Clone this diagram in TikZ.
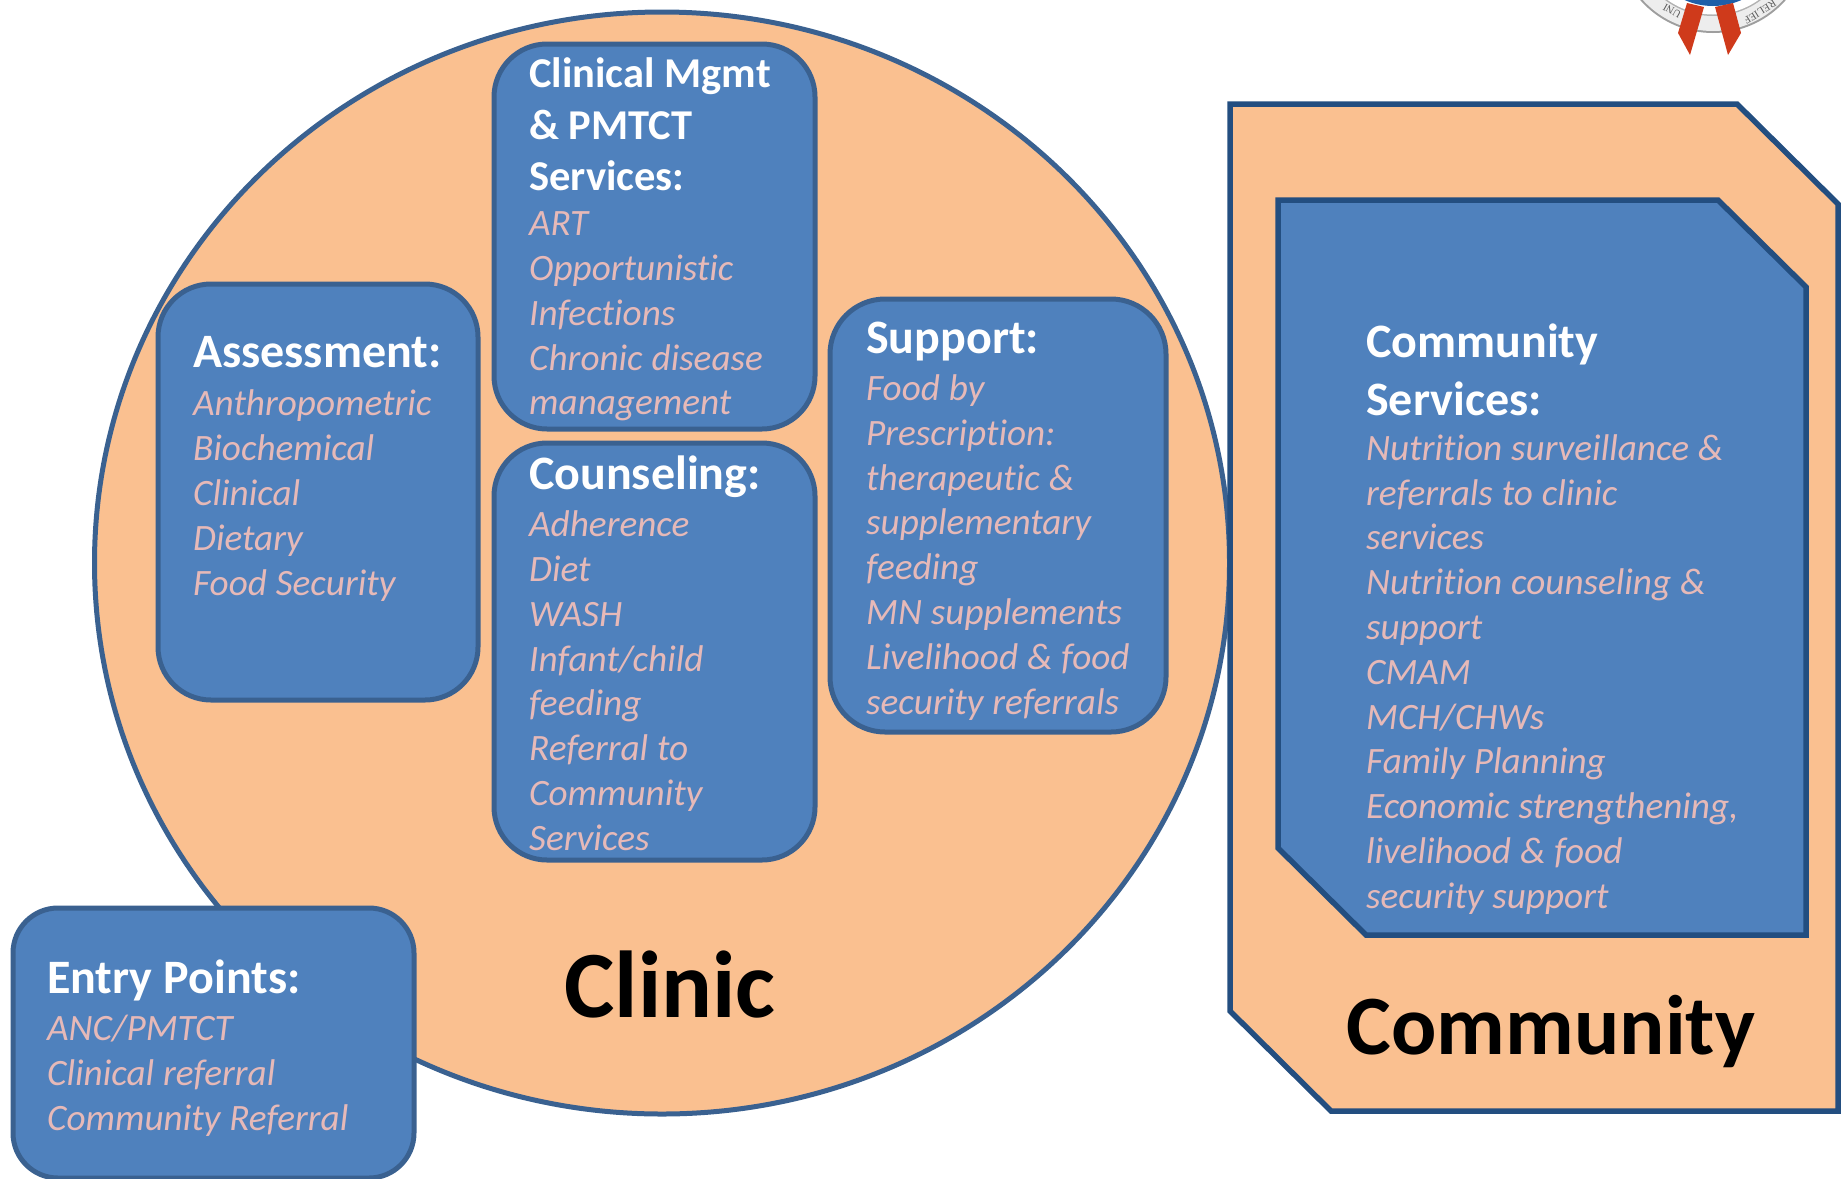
\documentclass[tikz,border=0pt]{standalone}
\usepackage{fontspec}
\usetikzlibrary{shapes.geometric}
\setmainfont{Carlito}[Ligatures=NoCommon]
\newfontfamily\sealfont{Liberation Serif}
\definecolor{peach}{HTML}{FAC090}
\definecolor{boxblue}{HTML}{4F81BD}
\definecolor{boxline}{HTML}{3A6190}
\definecolor{deepline}{HTML}{234E80}
\definecolor{bodypink}{HTML}{E6B9B8}
\definecolor{ribbon}{HTML}{CF3A1B}
\definecolor{globe}{HTML}{1F5FA8}
\newcommand{\hdA}[1]{{\fontsize{48}{57.6}\selectfont\bfseries\spaceskip=.23em\color{white}#1\par}}
\newcommand{\hdB}[1]{{\fontsize{42.5}{51.7}\selectfont\bfseries\spaceskip=.23em\color{white}#1\par}}
\newcommand{\bdy}[1]{{\fontsize{37.2}{44.8}\selectfont\itshape\spaceskip=.24em\color{bodypink}#1\par}}
\newcommand{\gap}[1]{\vspace{#1pt}}
\tikzset{
  x=1pt,y=-1pt,
  roundbox/.style={draw=boxline,line width=5pt,fill=boxblue},
  chamfer/.style={draw=deepline,line width=5.5pt,line join=miter},
  lbl/.style={anchor=north west,inner sep=0pt,text width=430pt},
  big/.style={text=black,inner sep=0pt},
  sealtext/.style={inner sep=0pt,text=black!65,font=\sealfont\fontsize{10.5}{11}\selectfont},
}
\begin{document}
\begin{tikzpicture}[line join=round]
\useasboundingbox (0,0) rectangle (1843,1178);
% seal fragment
\begin{scope}
\clip (0,0) rectangle (1843,1178);
\fill[white!62!black] (1713,-64) circle[radius=97];
\fill[white!93!black] (1713,-64) circle[radius=95];
\fill[white!70!black] (1713,-64) circle[radius=80];
\fill[white] (1713,-64) circle[radius=78.5];
\fill[globe] (1713,-64) circle[radius=70];
\node[sealtext,rotate=151] (sealA) at (1672,11) {UNI};
\node[sealtext,rotate=212] (sealB) at (1760,12) {RELIEF};
\fill[ribbon] (1687,3)--(1704,7)--(1690,55)--(1678,33)--cycle;
\fill[ribbon] (1715,7)--(1733,3)--(1741,33)--(1728,55)--cycle;
\end{scope}
% clinic
\node[ellipse,draw=boxline,line width=5pt,fill=peach,inner sep=0pt,minimum width=1135pt,minimum height=1102pt] (clinic) at (662,563) {};
% community
\draw[chamfer,fill=peach] (1230,104) coordinate (commA) -- (1737,104) -- (1838,204) -- (1838,1111) -- (1331,1111) -- (1230,1011) -- cycle;
\draw[chamfer,fill=boxblue] (1278,200) coordinate (svcA) -- (1718,200) -- (1806,287) -- (1806,935) -- (1366,935) -- (1278,848) -- cycle;
% boxes
\draw[roundbox,rounded corners=53pt] (158,284) rectangle (478,700);
\draw[roundbox,rounded corners=53pt] (494,44) rectangle (815,429);
\draw[roundbox,rounded corners=53pt] (494,443) rectangle (815,860);
\draw[roundbox,rounded corners=55pt] (830,299) rectangle (1166,732);
\draw[roundbox,rounded corners=45pt] (13,908) rectangle (414,1178);
% text
\node[lbl] (assessText) at (193,336) {\hdA{Assessment:}\gap{3.8}\bdy{Anthropometric}\bdy{Biochemical}\bdy{Clinical}\bdy{Dietary}\bdy{Food Security}};
\node[lbl] (clinicalText) at (529,57.4) {\hdB{Clinical Mgmt}\hdB{\& PMTCT}\hdB{Services:}\bdy{ART}\bdy{Opportunistic}\bdy{Infections}\bdy{Chronic disease}\bdy{management}};
\node[lbl] (counselText) at (529,456) {\hdA{Counseling:}\gap{2}\bdy{Adherence}\bdy{Diet}\bdy{WASH}\bdy{Infant/child}\bdy{feeding}\bdy{Referral to}\bdy{Community}\bdy{Services}};
\node[lbl] (supportText) at (866,322) {\hdA{Support:}\gap{2}\bdy{Food by}\bdy{Prescription:}\bdy{therapeutic \&}\bdy{supplementary}\bdy{feeding}\bdy{MN supplements}\bdy{Livelihood \& food}\bdy{security referrals}};
\node[lbl] (entryText) at (47,960) {\hdA{Entry Points:}\gap{2}\bdy{ANC/PMTCT}\bdy{Clinical referral}\bdy{Community Referral}};
\node[lbl] (serviceText) at (1366,324) {\hdA{Community}\hdA{Services:}\bdy{Nutrition surveillance \&}\bdy{referrals to clinic}\bdy{services}\bdy{Nutrition counseling \&}\bdy{support}\bdy{CMAM}\bdy{MCH/CHWs}\bdy{Family Planning}\bdy{Economic strengthening,}\bdy{livelihood \& food}\bdy{security support}};
\node[big,font=\fontsize{95}{95}\selectfont\bfseries] (clinicLabel) at (670,985) {Clinic};
\node[big,font=\fontsize{84.5}{85}\selectfont\bfseries] (commLabel) at (1551,1031) {Community};
\end{tikzpicture}
\end{document}
